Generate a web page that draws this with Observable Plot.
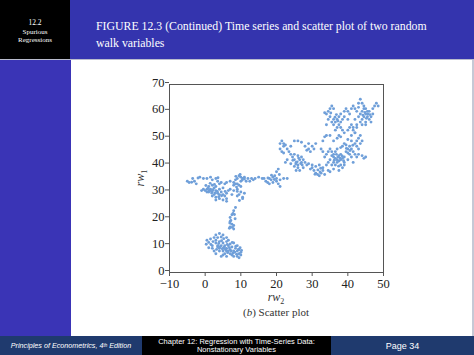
<!DOCTYPE html>
<html>
<head>
<meta charset="utf-8">
<script src="https://cdn.jsdelivr.net/npm/d3@7"></script>
<script src="https://cdn.jsdelivr.net/npm/@observablehq/plot@0.6"></script>
<style>
  html, body { margin: 0; padding: 0; }
  body { width: 474px; height: 355px; position: relative; overflow: hidden; background: #fff; }
  .abs { position: absolute; }
  #secbox { left: 0; top: 0; width: 70px; height: 59px; background: #000; color: #fff;
    font-family: "Liberation Serif", serif; font-size: 7px; text-align: center; line-height: 8.5px; }
  #secbox div:first-child { padding-top: 19px; font-size: 7.5px; }
  #header { left: 70px; top: 0; width: 404px; height: 59px; background: #3434ae; }
  #title { left: 96px; top: 18px; width: 345px; color: #fff; font-family: "Liberation Serif", serif;
    font-size: 11.8px; line-height: 17px; }
  #strip { left: 0; top: 60px; width: 71px; height: 276px; background: #3a34b6; }
  #sep { left: 0; top: 59px; width: 474px; height: 1px; background: #b9bccd; }
  #rightedge { left: 472px; top: 60px; width: 2px; height: 276px; background: #c6c9d6; }
  #footer { left: 0; top: 336px; width: 474px; height: 19px; }
  .fcell { position: absolute; top: 0; height: 19px; color: #fff; font-family: "Liberation Sans", sans-serif;
    font-size: 7.5px; text-align: center; display: flex; align-items: center; justify-content: center; line-height: 8px; }
  #chart { left: 120px; top: 70px; }
  .lab { font-family: "Liberation Serif", serif; color: #333; }
</style>
</head>
<body>
<div class="abs" id="secbox"><div>12.2</div><div>Spurious</div><div>Regressions</div></div>
<div class="abs" id="header"></div>
<div class="abs" id="title">FIGURE 12.3 (Continued) Time series and scatter plot of two random walk variables</div>
<div class="abs" id="sep"></div>
<div class="abs" id="strip"></div>
<div class="abs" id="rightedge"></div>
<div class="abs" id="footer">
  <div class="fcell" style="left:0;width:142px;background:#1f3a6e;font-style:italic;font-size:7.2px;">Principles of Econometrics, 4<sup style="font-size:4.5px">th</sup>&nbsp;Edition</div>
  <div class="fcell" style="left:142px;width:189px;background:#000;">Chapter 12: Regression with Time-Series Data:<br>Nonstationary Variables</div>
  <div class="fcell" style="left:331px;width:143px;background:#1f3a6e;font-size:9px;">Page 34</div>
</div>
<div class="abs" id="chart"></div>
<div class="abs lab" style="left:126px;top:170px;width:30px;text-align:center;transform:rotate(-90deg);font-size:12px;"><i>rw</i><sub style="font-size:8px">1</sub></div>
<div class="abs lab" style="left:261px;top:291px;width:30px;text-align:center;font-size:12px;line-height:13px;"><i>rw</i><sub style="font-size:8px;line-height:8px">2</sub></div>
<div class="abs lab" style="left:200px;top:306px;width:152px;text-align:center;font-size:11px;line-height:12px;">(<i>b</i>) Scatter plot</div>
<script>
// Values: [rw2, rw1] pairs, grouped by cluster
const bottomCluster = [[0.5,12],[1,11.2],[0.3,10.5],[1.5,12.5],[2,10],[1,9.2],[2.5,8],[3,14],[3.5,13],[4,14.5],[4.5,13.2],[5,14],[3,11],[3.5,10],[4,9],[4.5,10],[5,9],[5.5,10],[6,9],[6,8],[5,8],[5.5,7],[6.5,8],[7,8.5],[7,7],[6,6],[7.5,6.5],[8,8],[8.5,9],[9,8],[9.5,7],[10,7.5],[9,6],[8,6],[9.5,5.5],[4.5,6],[5,6.5],[3,7],[4,8],[3.5,9.5],[2,9],[6.5,10],[7.5,9.5],[8,11],[9,10],[9.5,8.5],[10,6.5],[3,12],[2.5,13],[4,11.5],[5,11],[6,11.5],[6.5,12],[4.2,9.6],[4.8,8.8],[5.3,9.4],[5.8,8.4],[6.3,7.4],[6.8,9.2],[7.3,8],[7.8,7.2],[8.3,7.6],[8.8,6.8],[9.3,8.6],[10.2,8.2],[3.8,10.8],[4.6,11.8],[5.6,8.8],[6.2,10.4],[7,10.6],[8.6,9.8],[9.8,9.2],[2.2,11.5],[1.6,10.4],[3.2,8.6],[5.2,12.6],[7.6,11.2],[6,13]];
const chain = [[8.5,24.2],[8,23],[7.8,22],[7.5,21.5],[7,20.5],[7.2,19.4],[7,19],[7.5,18],[7,17],[8,17.5],[6.8,16.5],[8,16.2],[8.4,20],[8.2,21.6],[7.6,16.8],[6.9,18.4]];
const leftCluster = [[-5,34],[-4.5,33.5],[-3.5,35],[-3,34],[-2.5,33],[-3.8,33.6],[-1.5,35.5],[-0.5,35],[0.5,35],[1.5,35.5],[2,34.5],[3,35],[3.5,34],[4,33],[4.5,33.5],[5.5,33],[6,33.5],[7,34],[1,32],[0.5,31],[-0.5,31],[0,30.5],[1,30],[1.5,31],[2,30],[2.5,31.5],[3,30.5],[3.5,29.5],[2.5,29],[3,28],[4,29],[4.5,30],[5,29],[5.5,28.5],[6,29.5],[6.5,30.5],[5,27],[4,27.5],[3,27],[6,26.5],[6,27.5],[2,28.5],[1.5,30.5],[0.5,30],[-1,30.5],[2,32.5],[3,32],[4,31],[5,31.5],[7,31],[8,30.5],[7.5,29],[8.5,33],[8,32.5],[1.2,30.6],[2.2,30.8],[2.8,29.6],[3.4,30.2],[1.8,29.6],[0.8,31.4],[2.6,32.8],[4.6,28.6],[5.6,30.2],[3.8,28.2],[1.4,33.2],[0.2,32.4],[-2,35.2],[3.6,35.3],[8.8,31.8],[9,30.2],[9,28.5],[9.5,29],[10.5,28],[10,30],[11,29.5],[10,32],[9,31],[10.5,27.5],[9.6,26.8]];
const bridge = [[8,33.5],[8.5,34.5],[9,35],[9.5,36],[10,35.5],[10.5,35],[11,35.5],[9,33],[10,34],[11.5,34],[12,35],[13,35],[13.5,34.5],[14,35],[15,35.5],[16,35],[16.5,35],[12.5,34],[9.5,32.5],[8.6,35.8],[9.8,36.5],[10.4,34.4],[11,34.8],[17,34],[17.5,33.5],[18,35],[18.5,34.5],[19,35.5],[19.5,36],[20,34],[20.5,33],[21,32],[20,35],[19,33.5],[18,33],[20.5,38.5],[20,37.5],[21,34.5],[22,35],[23,35],[18.6,36.2],[19.4,34.6],[17.6,35.2],[20.8,36.5]];
const middleCluster = [[21,48],[21.5,49],[22,48],[22.5,47.5],[21,46],[21.5,45],[22,44.5],[22,47],[23,46],[23.5,45],[24,44],[24.5,43],[25,42],[25.5,41],[24,40.5],[25,39.5],[25.5,38],[26,39],[26,40],[26.5,42],[27,41],[27.5,42],[28,41],[28.5,40],[27,43],[26,43.5],[25,44],[27.5,39],[26.5,38],[25,49],[26,49],[27,48.5],[28,47],[29,46],[30,47],[29.5,45],[28.5,45.5],[29,48],[30.5,46],[31,48],[33,49],[24,47],[23,42],[22.5,41],[25.8,41.2],[26.8,40.6],[24.6,41.8],[27.2,40],[25.4,40.4],[26.2,42.6],[30,39],[30.5,38],[31,37],[31.5,36.5],[32,36],[32.5,37],[33,38],[31,39.5],[32,40],[33,39],[34,40],[34.5,41],[35,42],[33.5,43],[34,44],[34.5,45],[35,46],[35.5,45],[33,45],[32.5,46],[36,44],[36,41],[35.5,40],[34.5,38],[35,37.5],[33.5,36.5],[30,40],[29,40.5],[29.5,38.5],[31.6,38.2],[32.4,38.8],[30.8,36.6],[32.2,37.4]];
const upperRight = [[36,43],[37,42],[37.5,43.5],[38,44],[38,42],[37,41],[36.5,40],[38,40],[39,41],[38.5,39],[37.5,38],[36,38.5],[39,43],[39.5,45],[40,46],[40.5,47],[41,46],[41.5,45],[42,48],[42.5,49],[41,49],[40,49.5],[39,48],[38.5,47],[39.5,47.5],[40.5,44],[41,43],[42,44],[42.5,43],[43,44],[44,43.5],[45,43],[44.5,42.5],[43,46],[40,42],[39,40],[41.5,41],[36.5,45],[37,46],[38,46.5],[35.5,43.5],[36.5,42.5],[37.5,41.5],[38.5,42.5],[40,44.5],[43.5,48],[42.5,47],[41,51],[42,52],[41.5,54],[42.5,55],[37.2,43],[37.8,42.6],[36.8,44],[38.4,43.4],[39.6,46.2],[40.6,45.4],[41.4,47.4],[37.4,39.6],[38.8,41.6],[36.2,41.8]];
const topCluster = [[34,51],[33.5,50.5],[35,51],[34,55],[34.5,57],[35,58],[34,59],[33.5,59.5],[35,61],[35.5,62],[36,61],[34.5,60],[35.5,56],[36,57],[36.5,56],[37,57],[37.5,58],[36,55],[37,54],[36.5,53],[37.5,55],[38,56],[38.5,57],[38,59],[39,60],[39.5,61],[40,60],[40.5,59],[41,61],[41.5,62],[40,57],[39,58],[38,54],[38.5,53],[39,52],[40,53],[40.5,54],[41,55],[41.5,53],[42,52],[42.5,54],[42,57],[43,58],[43.5,59],[44,60],[44.5,61],[45,59],[45.5,58],[44,57],[43.5,56],[44,55],[45,56],[46,57],[46.5,58],[46,60],[47,61],[47.5,62],[48,63],[48.5,62],[47,59],[46.5,56],[45,55],[44.5,58],[43,63],[43.5,64.5],[44,63],[44.5,62],[45,61],[45.5,60],[42.5,60],[42,61],[43,61.5],[36,49],[37,50],[37.5,51],[38,50.5],[43,50],[43.5,51],[44,49],[36.4,57.8],[37.2,56.4],[44.8,59.6],[45.6,59],[44.2,58.6],[46.2,58.8],[45.2,57.4],[35.2,59.4],[36.8,58.8]];
const xTicks = [-10, 0, 10, 20, 30, 40, 50];
const yTicks = [0, 10, 20, 30, 40, 50, 60, 70];

const points = [bottomCluster, chain, leftCluster, bridge, middleCluster, upperRight, topCluster].flat();

const chart = Plot.plot({
  width: 280,
  height: 250,
  marginTop: 14,
  marginRight: 17,
  marginBottom: 48,
  marginLeft: 49,
  style: {background: "transparent", fontFamily: "Liberation Serif, serif", fontSize: "12.5px", color: "#222", overflow: "visible"},
  x: {domain: [-10, 50]},
  y: {domain: [0, 70]},
  marks: [
    Plot.dot(points, {x: d => d[0], y: d => d[1], r: 1.45, fill: "#6f9fd9", stroke: "none"}),
    Plot.frame({stroke: "#555", strokeWidth: 1}),
    Plot.axisX({ticks: xTicks, tickSize: 4, tickPadding: 3, label: null, stroke: "#555", fill: "#222", fontSize: 12.5}),
    Plot.axisY({ticks: yTicks, tickSize: 4, tickPadding: 1, label: null, stroke: "#555", fill: "#222", fontSize: 12.5, dy: -2})
  ]
});
document.getElementById("chart").appendChild(chart);
</script>
</body>
</html>
